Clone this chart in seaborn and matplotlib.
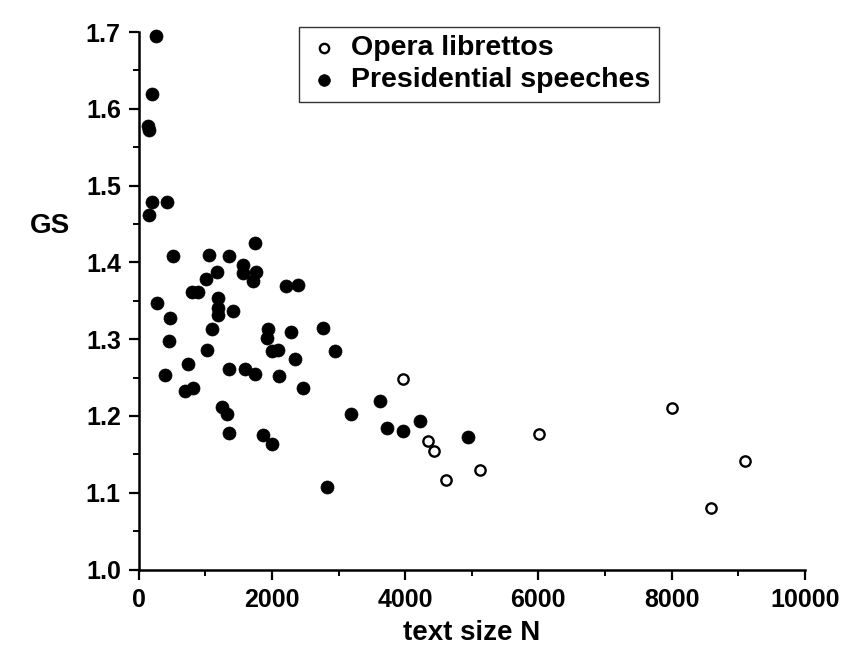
import matplotlib
matplotlib.use("Agg")
import matplotlib.pyplot as plt
from matplotlib.ticker import MultipleLocator
import seaborn as sns
import pandas as pd

# Text size N and GS values for each corpus
opera_n = [3970, 4340, 4430, 4620, 5120, 6010, 8000, 8600, 9100]
opera_gs = [1.248, 1.167, 1.154, 1.117, 1.130, 1.177, 1.210, 1.080, 1.141]

speech_n = [251, 191, 140, 150, 191, 416, 150, 1744, 516, 1053,
            1353, 1569, 1569, 1759, 1709, 1168, 1003, 802, 892, 2206,
            2386, 266, 1193, 1193, 1193, 1409, 466, 2771, 1093, 1945,
            1920, 2286, 456, 2947, 1995, 2086, 1028, 2346, 742, 391,
            1358, 1594, 1749, 2100, 692, 807, 2471, 3614, 1243, 1328,
            3183, 4215, 3734, 3965, 1353, 1860, 2000, 4937, 2832]
speech_gs = [1.695, 1.619, 1.577, 1.572, 1.479, 1.478, 1.462, 1.425, 1.408, 1.409,
             1.408, 1.397, 1.386, 1.388, 1.376, 1.387, 1.378, 1.362, 1.362, 1.369,
             1.371, 1.347, 1.354, 1.340, 1.332, 1.337, 1.328, 1.315, 1.313, 1.313,
             1.302, 1.310, 1.297, 1.285, 1.285, 1.286, 1.286, 1.274, 1.268, 1.254,
             1.261, 1.261, 1.255, 1.252, 1.233, 1.236, 1.237, 1.220, 1.212, 1.203,
             1.203, 1.193, 1.185, 1.181, 1.178, 1.175, 1.163, 1.173, 1.108]

series_names = ["Opera librettos", "Presidential speeches"]

sns.set_theme(style="ticks")
plt.rcParams["font.family"] = ["Liberation Sans", "DejaVu Sans"]
plt.rcParams["font.weight"] = "bold"
plt.rcParams["text.color"] = "black"
plt.rcParams["axes.labelcolor"] = "black"
plt.rcParams["xtick.color"] = "black"
plt.rcParams["ytick.color"] = "black"

opera_df = pd.DataFrame({"N": opera_n, "GS": opera_gs})
speech_df = pd.DataFrame({"N": speech_n, "GS": speech_gs})

fig = plt.figure(figsize=(8.47, 6.6), dpi=100)
ax = fig.add_axes([0.164, 0.137, 0.786, 0.8145])

sns.scatterplot(data=opera_df, x="N", y="GS", ax=ax, marker="o", s=55,
                facecolor="white", edgecolor="black", linewidth=1.7,
                label=series_names[0], zorder=3, clip_on=False)
sns.scatterplot(data=speech_df, x="N", y="GS", ax=ax, marker="o", s=88,
                color="black", edgecolor="black", linewidth=0.5,
                label=series_names[1], zorder=3, clip_on=False)

ax.set_xlim(0, 10000)
ax.set_ylim(1.0, 1.7)
ax.xaxis.set_major_locator(MultipleLocator(2000))
ax.xaxis.set_minor_locator(MultipleLocator(1000))
ax.yaxis.set_major_locator(MultipleLocator(0.1))
ax.yaxis.set_minor_locator(MultipleLocator(0.05))
ax.yaxis.set_major_formatter(plt.FuncFormatter(lambda v, p: f"{v:.1f}"))

for side in ["top", "right"]:
    ax.spines[side].set_visible(False)
for side in ["left", "bottom"]:
    ax.spines[side].set_linewidth(1.8)
    ax.spines[side].set_color("black")

ax.tick_params(axis="both", which="major", direction="out", length=7,
               width=1.6, labelsize=18, colors="black", pad=6)
ax.tick_params(axis="both", which="minor", direction="out", length=4,
               width=1.4, colors="black")
for lab in ax.get_xticklabels() + ax.get_yticklabels():
    lab.set_fontweight("bold")

ax.set_xlabel("text size N", fontsize=20, fontweight="bold", labelpad=6)
ax.set_ylabel("GS", fontsize=20, fontweight="bold", rotation=0,
              va="center", ha="center")
ax.yaxis.set_label_coords(-0.134, 0.64)

leg = ax.legend(loc="upper left", bbox_to_anchor=(0.24, 1.01), frameon=True,
                fancybox=False, edgecolor="black", fontsize=20.5,
                handletextpad=0.35, borderpad=0.3, labelspacing=0.22,
                markerscale=0.9, handlelength=1.2, borderaxespad=0.0)
leg.get_frame().set_linewidth(1.0)
for t in leg.get_texts():
    t.set_fontweight("bold")
    t.set_color("black")

fig.savefig("out.png", dpi=100, facecolor="white")
